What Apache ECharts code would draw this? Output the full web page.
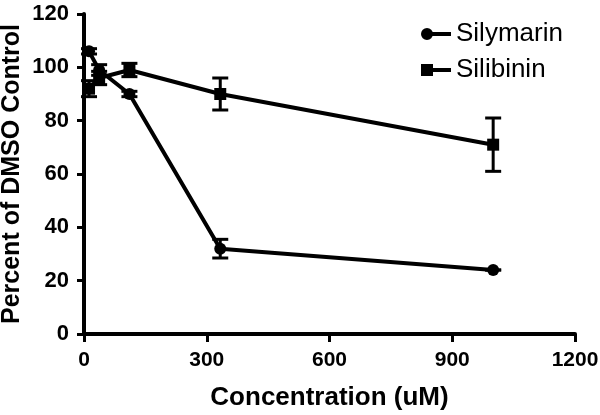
<!DOCTYPE html>
<html>
<head>
<meta charset="utf-8">
<script src="https://cdn.jsdelivr.net/npm/echarts@6/dist/echarts.min.js"></script>
<style>html,body{margin:0;padding:0;background:#fff}#c{width:600px;height:415px}</style>
</head>
<body>
<div id="c"></div>
<script>
var concentrations = [12.3, 37, 111, 333, 1000];
var silymarin = [106, 99, 90, 32, 24];
var silymarinErr = [1, 2, 1, 3.5, 0];
var silibinin = [92, 96, 99, 90, 71];
var silibininErr = [3, 2.5, 2.5, 6, 10];
var xTicks = [0, 300, 600, 900, 1200];
var yTicks = [0, 20, 40, 60, 80, 100, 120];

var FONT = 'Liberation Sans, Arial, sans-serif';

function pairs(vals) {
  return concentrations.map(function (c, i) { return [c, vals[i]]; });
}
function errData(vals, errs) {
  return concentrations.map(function (c, i) { return [c, vals[i] - errs[i], vals[i] + errs[i]]; });
}
function errRender(params, api) {
  var x = api.value(0);
  var lo = api.coord([x, api.value(1)]);
  var hi = api.coord([x, api.value(2)]);
  var hw = 8;
  var st = { stroke: '#000', lineWidth: 3 };
  return {
    type: 'group',
    children: [
      { type: 'line', shape: { x1: lo[0], y1: lo[1], x2: hi[0], y2: hi[1] }, style: st },
      { type: 'line', shape: { x1: lo[0] - hw, y1: lo[1], x2: lo[0] + hw, y2: lo[1] }, style: st },
      { type: 'line', shape: { x1: hi[0] - hw, y1: hi[1], x2: hi[0] + hw, y2: hi[1] }, style: st }
    ]
  };
}

var chart = echarts.init(document.getElementById('c'), null, { renderer: 'canvas' });
chart.setOption({
  animation: false,
  backgroundColor: '#fff',
  grid: { left: 84, right: 25, top: 14, bottom: 81, containLabel: false, outerBoundsMode: 'none' },
  legend: {
    orient: 'vertical',
    left: 416,
    top: 16,
    itemWidth: 30,
    itemHeight: 12,
    itemGap: 10,
    textStyle: { fontSize: 26, color: '#000', fontFamily: FONT },
    data: [
      { name: 'Silymarin', icon: 'path://M0,6 A6,6 0 1,1 12,6 A6,6 0 1,1 0,6 Z M10,4 L30,4 L30,8 L10,8 Z' },
      { name: 'Silibinin', icon: 'path://M0,0 L12,0 L12,12 L0,12 Z M10,4 L30,4 L30,8 L10,8 Z' }
    ]
  },
  xAxis: {
    type: 'value',
    min: xTicks[0], max: xTicks[xTicks.length - 1], interval: 300,
    name: 'Concentration (uM)',
    nameLocation: 'middle',
    nameGap: 51,
    nameMoveOverlap: false,
    nameTextStyle: { fontSize: 26, fontWeight: 'bold', color: '#000', fontFamily: FONT },
    axisLine: { lineStyle: { color: '#000', width: 4 } },
    axisTick: { show: true, length: 8, lineStyle: { color: '#000', width: 3 } },
    axisLabel: { fontSize: 21, fontWeight: 'bold', color: '#000', fontFamily: FONT, margin: 16,
      formatter: function (v) { return String(v); } },
    splitLine: { show: false }
  },
  yAxis: {
    type: 'value',
    min: yTicks[0], max: yTicks[yTicks.length - 1], interval: 20,
    name: 'Percent of DMSO Control',
    nameLocation: 'middle',
    nameGap: 59,
    nameMoveOverlap: false,
    nameRotate: 90,
    nameTextStyle: { fontSize: 25, fontWeight: 'bold', color: '#000', fontFamily: FONT },
    axisLine: { show: true, lineStyle: { color: '#000', width: 4 } },
    axisTick: { show: true, length: 7, lineStyle: { color: '#000', width: 3 } },
    axisLabel: { fontSize: 22, fontWeight: 'bold', color: '#000', fontFamily: FONT, margin: 15 },
    splitLine: { show: false }
  },
  series: [
    {
      type: 'custom', name: 'errSilymarin', renderItem: errRender,
      data: errData(silymarin, silymarinErr), encode: { x: 0, y: [1, 2] }, z: 3, silent: true
    },
    {
      type: 'custom', name: 'errSilibinin', renderItem: errRender,
      data: errData(silibinin, silibininErr), encode: { x: 0, y: [1, 2] }, z: 3, silent: true
    },
    {
      name: 'Silymarin', type: 'line', data: pairs(silymarin),
      symbol: 'circle', symbolSize: 12, showAllSymbol: true,
      lineStyle: { color: '#000', width: 4 },
      itemStyle: { color: '#000' }, z: 4
    },
    {
      name: 'Silibinin', type: 'line', data: pairs(silibinin),
      symbol: 'rect', symbolSize: 12, showAllSymbol: true,
      lineStyle: { color: '#000', width: 4 },
      itemStyle: { color: '#000' }, z: 4
    }
  ]
});
</script>
</body>
</html>
